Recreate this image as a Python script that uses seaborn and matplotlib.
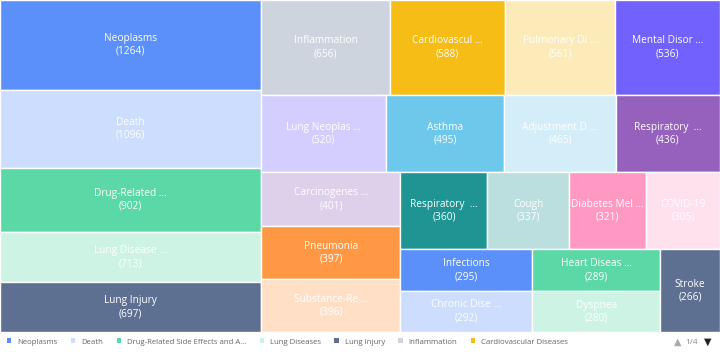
import matplotlib
matplotlib.use("Agg")
import matplotlib.pyplot as plt
from matplotlib.patches import Patch
import seaborn as sns

# ---- data -------------------------------------------------------------
names = [
    "Neoplasms", "Death", "Drug-Related Side Effects and Adverse Reactions",
    "Lung Diseases", "Lung Injury", "Inflammation", "Cardiovascular Diseases",
    "Pulmonary Disease, Chronic Obstructive", "Mental Disorders", "Lung Neoplasms",
    "Asthma", "Adjustment Disorders", "Respiratory Insufficiency", "Carcinogenesis",
    "Pneumonia", "Substance-Related Disorders", "Respiratory Tract Infections",
    "Cough", "Diabetes Mellitus", "COVID-19", "Infections", "Chronic Disease",
    "Heart Diseases", "Dyspnea", "Stroke",
]
values = [1264, 1096, 902, 713, 697, 656, 588, 561, 536, 520, 495, 465, 436,
          401, 397, 396, 360, 337, 321, 305, 295, 292, 289, 280, 266]

palette_hex = ["#5B8FF9", "#CDDDFD", "#5AD8A6", "#CDF3E4", "#5D7092",
               "#CED4DE", "#F6BD16", "#FCEBB9", "#7262FD", "#D3CEFD",
               "#6DC8EC", "#D3EEF9", "#9661BC", "#DECFEA", "#FF9845",
               "#FFE0C7", "#1E9493", "#BBDEDE", "#FF99C3", "#FFE0ED"]

# strip structure of the squarified layout: (items in strip, orientation)
strips = [(5, "col"), (4, "row"), (4, "row"), (3, "col"),
          (4, "row"), (2, "col"), (2, "col"), (1, "col")]

legend_shown = 7

# ---- style ------------------------------------------------------------
sns.set_theme(style="white")
plt.rcParams["font.family"] = ["Open Sans", "DejaVu Sans"]
colors = sns.color_palette(palette_hex, n_colors=len(palette_hex))

W, H = 720.0, 332.0
fig = plt.figure(figsize=(7.2, 3.52), dpi=100)
ax = fig.add_axes([0, (352 - H) / 352, 1, H / 352])
ax.set_xlim(0, W)
ax.set_ylim(H, 0)
ax.axis("off")

# ---- squarified strip layout computed from the values ------------------
total = sum(values)
scale = W * H / total
rx, ry, rw, rh = 0.0, 0.0, W, H
rects = []
i = 0
for n, kind in strips:
    vals = values[i:i + n]
    area = sum(vals) * scale
    if kind == "col":
        cw = area / rh
        yy = ry
        for v in vals:
            hh = v * scale / cw
            rects.append((rx, yy, cw, hh))
            yy += hh
        rx += cw
        rw -= cw
    else:
        chh = area / rw
        xx = rx
        for v in vals:
            ww = v * scale / chh
            rects.append((xx, ry, ww, chh))
            xx += ww
        ry += chh
        rh -= chh
    i += n


def cell_label(n):
    return n if len(n) <= 12 else n[:12] + " ..."


for k, ((x, y, w, h), name, v) in enumerate(zip(rects, names, values)):
    col = colors[k % len(colors)]
    ax.bar(x, h, width=w, bottom=y, align="edge", color=col,
           edgecolor="white", linewidth=1.0)
    ax.text(x + w / 2, y + h / 2, f"{cell_label(name)}\n({v})",
            ha="center", va="center", color="white", fontsize=7.3,
            linespacing=1.25)

# ---- legend -----------------------------------------------------------
def legend_label(n):
    return n if len(n) <= 33 else n[:31] + "..."

handles = [Patch(facecolor=colors[k], edgecolor="none")
           for k in range(legend_shown)]
labels = [legend_label(n) for n in names[:legend_shown]]
leg = fig.legend(handles, labels, loc="center left",
                 bbox_to_anchor=(7 / 720, 10.0 / 352), ncol=legend_shown,
                 frameon=False, fontsize=5.6, handlelength=0.55,
                 handleheight=0.55, handletextpad=0.8, columnspacing=1.7,
                 borderpad=0, borderaxespad=0)
for t in leg.get_texts():
    t.set_color("#666666")

fig.text(678 / 720, 10 / 352, "▲", ha="center", va="center",
         fontsize=7, color="#aaaaaa", family="DejaVu Sans")
fig.text(692 / 720, 10 / 352, "1/4", ha="center", va="center",
         fontsize=6, color="#888888")
fig.text(708 / 720, 10 / 352, "▼", ha="center", va="center",
         fontsize=7, color="#222222", family="DejaVu Sans")

fig.savefig("out.png", dpi=100, facecolor="white")
